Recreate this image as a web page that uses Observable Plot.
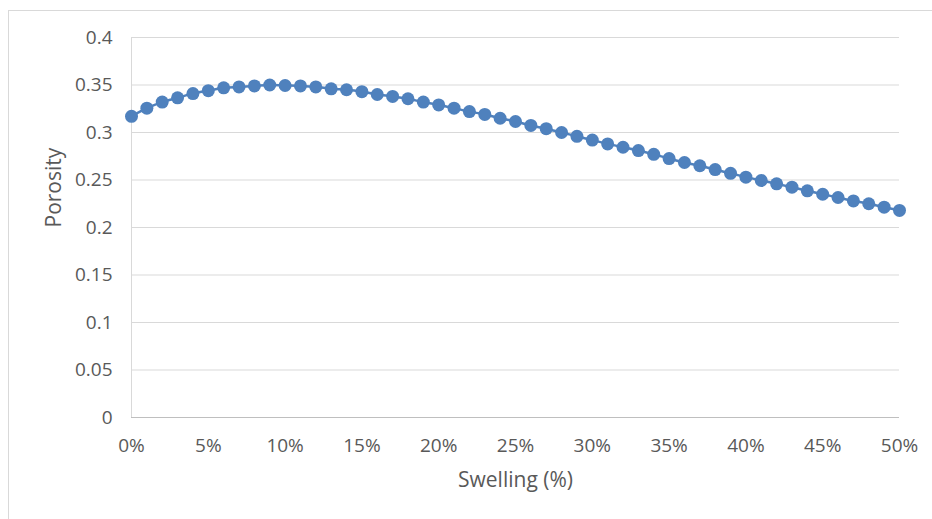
<!DOCTYPE html>
<html>
<head>
<meta charset="utf-8">
<script src="https://cdn.jsdelivr.net/npm/d3@7"></script>
<script src="https://cdn.jsdelivr.net/npm/@observablehq/plot@0.6"></script>
<style>
  html, body { margin: 0; padding: 0; background: #fff; }
  #wrap { position: relative; width: 932px; height: 519px; overflow: hidden; }
  #frame { position: absolute; left: 8px; top: 10px; width: 940px; height: 520px;
           border-left: 1px solid #d9d9d9; border-top: 1px solid #d9d9d9; }
  #chart { position: absolute; left: 0; top: 0; }
</style>
</head>
<body>
<div id="wrap"><div id="frame"></div><div id="chart"></div></div>
<script>
const swelling = [0,1,2,3,4,5,6,7,8,9,10,11,12,13,14,15,16,17,18,19,20,21,22,23,24,25,26,27,28,29,30,31,32,33,34,35,36,37,38,39,40,41,42,43,44,45,46,47,48,49,50];
const porosity = [0.317,0.3256,0.332,0.3365,0.341,0.344,0.347,0.348,0.349,0.350,0.3495,0.349,0.348,0.346,0.345,0.343,0.340,0.338,0.3355,0.332,0.329,0.3256,0.322,0.319,0.315,0.3116,0.3074,0.304,0.300,0.296,0.292,0.288,0.2845,0.281,0.277,0.2726,0.2684,0.265,0.261,0.257,0.253,0.2495,0.246,0.2424,0.2386,0.235,0.2316,0.228,0.225,0.2214,0.218];
const xTicks = [0,5,10,15,20,25,30,35,40,45,50];
const yTicks = [0,0.05,0.1,0.15,0.2,0.25,0.3,0.35,0.4];
const yTickLabels = ["0","0.05","0.1","0.15","0.2","0.25","0.3","0.35","0.4"];
const xLabel = "Swelling (%)";
const yLabel = "Porosity";

const data = swelling.map((s, i) => ({s, p: porosity[i]}));
const blue = "#4f81bd";

const chart = Plot.plot({
  width: 932,
  height: 519,
  marginLeft: 131,
  marginRight: 33,
  marginTop: 37,
  marginBottom: 102,
  style: {fontFamily: "'Open Sans', sans-serif", fontSize: "19px", color: "#595959", background: "transparent", overflow: "visible"},
  x: {domain: [0, 50], ticks: xTicks, tickFormat: d => d + "%", tickSize: 0, tickPadding: 21, label: null},
  y: {domain: [0, 0.4], ticks: yTicks, tickFormat: d => yTickLabels[yTicks.indexOf(d)], tickSize: 0, tickPadding: 19, label: null},
  marks: [
    Plot.gridY(yTicks, {stroke: "#d9d9d9", strokeOpacity: 1, strokeWidth: 1}),
    Plot.ruleX([0], {stroke: "#d9d9d9", strokeWidth: 1}),
    Plot.ruleY([0], {stroke: "#bfbfbf", strokeWidth: 1}),
    Plot.line(data, {x: "s", y: "p", stroke: blue, strokeWidth: 2.5, curve: "catmull-rom"}),
    Plot.dot(data, {x: "s", y: "p", r: 6.5, fill: blue, stroke: "none"}),
    Plot.text([xLabel], {frameAnchor: "bottom", text: d => d, dy: 63, lineAnchor: "middle", fontSize: 21, fill: "#595959"}),
    Plot.text([yLabel], {frameAnchor: "left", text: d => d, dx: -77, rotate: -90, lineAnchor: "middle", fontSize: 21, fill: "#595959"})
  ]
});
document.getElementById("chart").appendChild(chart);
</script>
</body>
</html>
